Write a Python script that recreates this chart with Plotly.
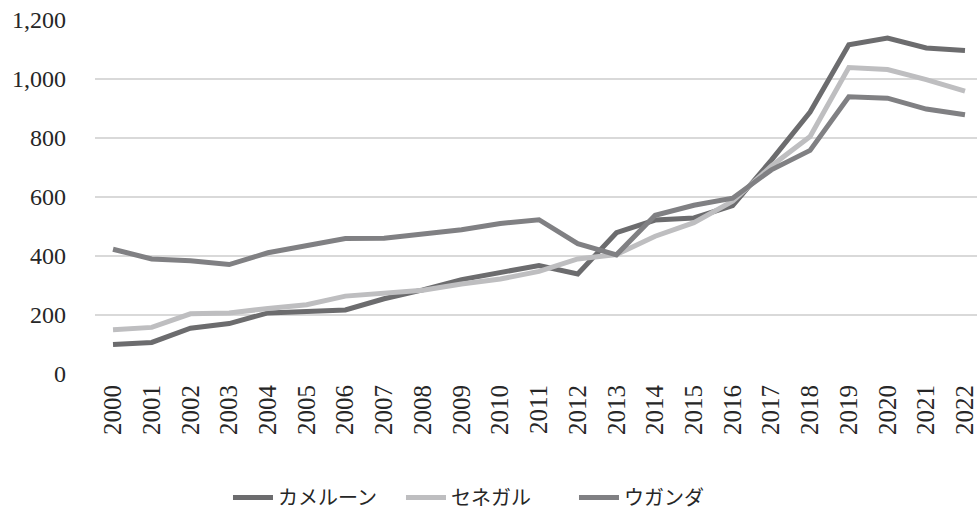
import plotly.graph_objects as go

years = [str(y) for y in range(2000, 2023)]
cameroon = [100, 107, 155, 171, 207, 214, 217, 255, 285, 320, 345, 368, 339, 479, 522, 529, 571, 725, 888, 1116, 1139, 1105, 1097]
senegal = [150, 158, 204, 207, 222, 235, 264, 272, 284, 305, 322, 348, 390, 405, 467, 513, 586, 705, 805, 1039, 1032, 998, 959]
uganda = [423, 390, 384, 371, 411, 435, 459, 460, 473, 489, 510, 523, 442, 404, 538, 572, 596, 692, 758, 940, 935, 898, 879]

names = ["カメルーン", "セネガル", "ウガンダ"]
colors = ["#6c6c6e", "#bebec0", "#808083"]
series = [cameroon, senegal, uganda]

FONT = "Liberation Serif, Noto Sans CJK JP, serif"

fig = go.Figure()
for n, c, s in zip(names, colors, series):
    fig.add_trace(go.Scatter(x=years, y=s, name=n, mode="lines",
                             line=dict(color=c, width=5)))

fig.update_layout(
    width=977, height=517,
    margin=dict(l=95, r=0, t=20, b=139),
    paper_bgcolor="white", plot_bgcolor="white",
    font=dict(family=FONT, color="#262626", size=20),
    showlegend=True,
    legend=dict(orientation="h", x=0.445, xanchor="center", y=-0.35, yanchor="middle",
                font=dict(size=20, family=FONT, color="#262626"), itemwidth=40,
                entrywidth=118, traceorder="normal"),
)
fig.update_xaxes(type="category", range=[-0.465, 22.31], tickangle=-90,
                 tickfont=dict(size=25, family=FONT), showgrid=False, showline=False,
                 zeroline=False, ticks="", ticklabelstandoff=5)
fig.update_yaxes(range=[0, 1200], tickvals=[0, 200, 400, 600, 800, 1000, 1200],
                 tickformat=",d", showgrid=True, gridcolor="#d9d9d9", gridwidth=1.5,
                 zeroline=False, showline=False, ticks="", ticklabelstandoff=28,
                 tickfont=dict(size=24, family=FONT))

fig.write_html("out.html")
